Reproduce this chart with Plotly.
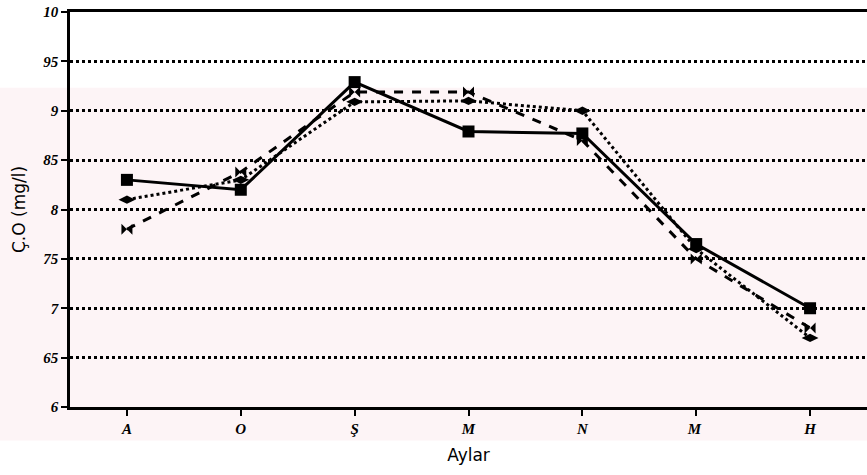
import plotly.graph_objects as go

months = ["A", "O", "Ş", "M", "N", "M ", "H"]
solid_vals = [8.30, 8.20, 9.29, 8.79, 8.77, 7.65, 7.00]
dashed_vals = [7.80, 8.38, 9.19, 9.19, 8.70, 7.50, 6.80]
dotted_vals = [8.10, 8.30, 9.09, 9.10, 9.00, 7.60, 6.70]

y_tickvals = [6, 6.5, 7, 7.5, 8, 8.5, 9, 9.5, 10]
y_ticktext = ["6", "65", "7", "75", "8", "85", "9", "95", "10"]

x_idx = list(range(len(months)))

fig = go.Figure()
fig.add_trace(go.Scatter(
    x=x_idx, y=dotted_vals, mode="lines+markers",
    line=dict(color="black", width=3, dash="dot"),
    marker=dict(symbol="diamond-wide", size=12, color="black"),
    showlegend=False))
fig.add_trace(go.Scatter(
    x=x_idx, y=dashed_vals, mode="lines+markers",
    line=dict(color="black", width=3, dash="dash"),
    marker=dict(symbol="bowtie", size=11, color="black"),
    showlegend=False))
fig.add_trace(go.Scatter(
    x=x_idx, y=solid_vals, mode="lines+markers",
    line=dict(color="black", width=3),
    marker=dict(symbol="square", size=12, color="black"),
    showlegend=False))

tickfont = dict(family="Liberation Serif", size=15, color="black",
                weight="bold", style="italic")

# faint pink scan watermark band (decoration)
fig.add_shape(type="rect", xref="paper", yref="paper",
              x0=-0.1, x1=1.0, y0=-0.085, y1=0.808,
              fillcolor="#fdf4f6", line=dict(width=0), layer="below")

fig.update_layout(
    width=867, height=475,
    margin=dict(l=70, r=0, t=12, b=68),
    paper_bgcolor="white", plot_bgcolor="rgba(0,0,0,0)",
    xaxis=dict(
        range=[-0.5, 6.5], tickmode="array", tickvals=x_idx, ticktext=months,
        showgrid=False, zeroline=False,
        showline=True, linecolor="black", linewidth=2.5, mirror=True,
        ticks="outside", ticklen=6, tickwidth=1.5, tickcolor="black",
        tickfont=tickfont,
        title=dict(text="Aylar", font=dict(family="DejaVu Sans", size=17, color="black"),
                   standoff=14),
    ),
    yaxis=dict(
        range=[6, 10], tickmode="array", tickvals=y_tickvals, ticktext=y_ticktext,
        showgrid=True, gridcolor="black", gridwidth=2.5, griddash="dot",
        zeroline=False,
        showline=True, linecolor="black", linewidth=2.5,
        ticks="outside", ticklen=6, tickwidth=2, tickcolor="black",
        tickfont=tickfont, ticklabeloverflow="allow",
        title=dict(text="Ç.O (mg/l)", font=dict(family="DejaVu Sans", size=17, color="black"),
                   standoff=14),
    ),
)

fig.write_html("out.html", config={"displayModeBar": False},
               post_script="document.body.style.margin='0';")
